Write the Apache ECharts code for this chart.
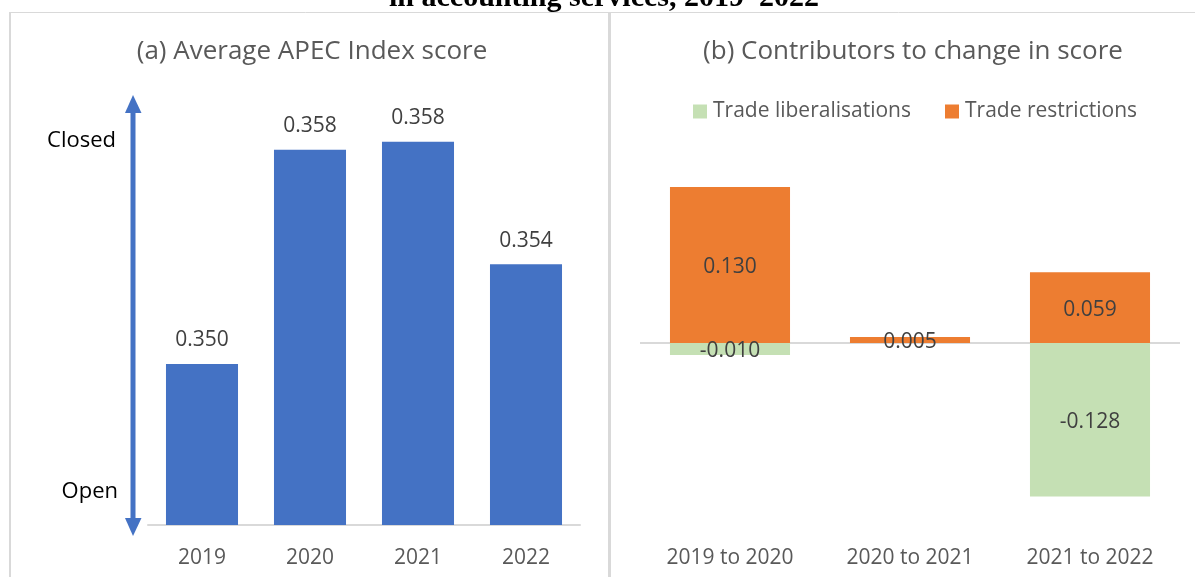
<!DOCTYPE html>
<html>
<head>
<meta charset="utf-8">
<script src="https://cdn.jsdelivr.net/npm/echarts@6/dist/echarts.min.js"></script>
<style>
html,body{margin:0;padding:0;background:#fff;}
#c{width:1195px;height:577px;}
</style>
</head>
<body>
<div id="c"></div>
<script>
// ---- data ----
const years = ['2019', '2020', '2021', '2022'];
const avgScore = [0.35005, 0.3581, 0.3584, 0.3538];
const periods = ['2019 to 2020', '2020 to 2021', '2021 to 2022'];
const liberalisations = [-0.010, null, -0.128];
const restrictions = [0.130, 0.005, 0.059];
const seriesNames = ['Trade liberalisations', 'Trade restrictions'];
const titleText = 'in accounting services, 2019–2022';
const panelTitles = ['(a) Average APEC Index score', '(b) Contributors to change in score'];

const FONT = 'Open Sans';
const TXT = '#595959';
const LBL = '#404040';

const chart = echarts.init(document.getElementById('c'), null, {renderer: 'canvas'});
const fmt = p => (p.value == null ? '' : Number(p.value).toFixed(3));

chart.setOption({
  animation: false,
  backgroundColor: '#fff',
  textStyle: {fontFamily: FONT},
  title: [
    {text: panelTitles[0], left: 307, top: 34, textAlign: 'center',
     textStyle: {fontFamily: FONT, fontSize: 26, fontWeight: 'normal', color: TXT}},
    {text: panelTitles[1], left: 908, top: 34, textAlign: 'center',
     textStyle: {fontFamily: FONT, fontSize: 26, fontWeight: 'normal', color: TXT}}
  ],
  legend: {
    left: 688, top: 96, itemWidth: 14, itemHeight: 14, itemGap: 34,
    icon: 'rect',
    textStyle: {fontFamily: FONT, fontSize: 21, color: TXT, padding: [0,0,0,1]},
    data: seriesNames
  },
  grid: [
    {left: 148, right: 615, top: 46, bottom: 52},
    {left: 640, right: 15, top: 103, bottom: 54}
  ],
  xAxis: [
    {type: 'category', gridIndex: 0, data: years,
     axisLine: {lineStyle: {color: '#d9d9d9', width: 2}}, axisTick: {show: false},
     axisLabel: {fontFamily: FONT, fontSize: 21, color: TXT, margin: 23}},
    {type: 'category', gridIndex: 1, data: periods,
     axisLine: {show: false, onZero: false}, axisTick: {show: false},
     axisLabel: {fontFamily: FONT, fontSize: 21, color: TXT, margin: 25}}
  ],
  yAxis: [
    {type: 'value', gridIndex: 0, min: 0.344, max: 0.362, show: false},
    {type: 'value', gridIndex: 1, min: -0.15, max: 0.2, show: false}
  ],
  series: [
    {type: 'bar', xAxisIndex: 0, yAxisIndex: 0, data: avgScore, barCategoryGap: '33.3%',
     itemStyle: {color: '#4472C4'},
     label: {show: true, position: 'top', distance: 13, formatter: fmt,
             fontFamily: FONT, fontSize: 21, color: LBL}},
    {name: seriesNames[0], type: 'bar', xAxisIndex: 1, yAxisIndex: 1, stack: 's',
     data: liberalisations, barCategoryGap: '33.3%',
     itemStyle: {color: '#C5E0B4'},
     label: {show: true, position: 'inside', formatter: fmt, offset: [0, 2],
             fontFamily: FONT, fontSize: 21, color: LBL}},
    {name: seriesNames[1], type: 'bar', xAxisIndex: 1, yAxisIndex: 1, stack: 's',
     data: restrictions, barCategoryGap: '33.3%',
     itemStyle: {color: '#ED7D31'},
     label: {show: true, position: 'inside', formatter: fmt, offset: [0, 2],
             fontFamily: FONT, fontSize: 21, color: LBL},
     markLine: {silent: true, symbol: 'none', label: {show: false}, z: 1,
                lineStyle: {color: '#d9d9d9', width: 2, type: 'solid'},
                data: [{yAxis: 0}]}}
  ],
  graphic: [
    // truncated page title
    {type: 'text', x: 604, y: 13, z: 1, style: {text: titleText, fontFamily: 'Liberation Serif', fontWeight: 'bold',
      fontSize: 30, fill: '#000', textAlign: 'center', textVerticalAlign: 'bottom'}},
    // frame lines
    {type: 'rect', z: 2, shape: {x: 0, y: 12, width: 1195, height: 8}, style: {fill: '#fff'}},
    {type: 'line', z: 3, shape: {x1: 9, y1: 12.5, x2: 1195, y2: 12.5}, style: {stroke: '#d9d9d9', lineWidth: 1}},
    {type: 'line', z: 3, shape: {x1: 10, y1: 12, x2: 10, y2: 577}, style: {stroke: '#d9d9d9', lineWidth: 2}},
    {type: 'line', z: 3, shape: {x1: 609.5, y1: 12, x2: 609.5, y2: 577}, style: {stroke: '#d9d9d9', lineWidth: 3}},
    // arrow
    {type: 'line', shape: {x1: 133, y1: 110, x2: 133, y2: 520}, style: {stroke: '#4472C4', lineWidth: 5}},
    {type: 'polygon', shape: {points: [[133, 95], [125, 113], [141.5, 113]]}, style: {fill: '#4472C4'}},
    {type: 'polygon', shape: {points: [[133, 536], [125, 518], [141.5, 518]]}, style: {fill: '#4472C4'}},
    {type: 'text', x: 116, y: 141, style: {text: 'Closed', fontFamily: FONT, fontSize: 22, fill: '#000',
      textAlign: 'right', textVerticalAlign: 'middle'}},
    {type: 'text', x: 118, y: 492, style: {text: 'Open', fontFamily: FONT, fontSize: 22, fill: '#000',
      textAlign: 'right', textVerticalAlign: 'middle'}}
  ]
});
</script>
</body>
</html>
